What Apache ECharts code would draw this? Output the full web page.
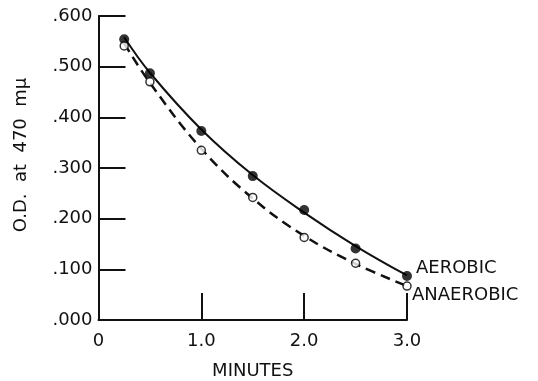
<!DOCTYPE html>
<html><head><meta charset="utf-8">
<script src="https://cdn.jsdelivr.net/npm/echarts@6/dist/echarts.min.js"></script>
<style>html,body{margin:0;padding:0;background:#fff}#c{width:538px;height:381px}</style>
</head><body><div id="c"></div>
<script>
// Measured points
const aerobicPts = [[0.25,0.554],[0.5,0.487],[1.0,0.373],[1.5,0.284],[2.0,0.217],[2.5,0.141],[3.0,0.087]];
const anaerobicPts = [[0.25,0.541],[0.5,0.470],[1.0,0.335],[1.5,0.242],[2.0,0.163],[2.5,0.112],[3.0,0.067]];
// Fitted curves
const aerobicFit = [[0.25,0.558],[0.5,0.488],[1.0,0.376],[1.5,0.286],[2.0,0.212],[2.5,0.146],[3.0,0.088]];
const anaerobicFit = [[0.25,0.546],[0.5,0.468],[1.0,0.338],[1.5,0.240],[2.0,0.166],[2.5,0.111],[3.0,0.067]];
const xTickLabels = {0:'0',1:'1.0',2:'2.0',3:'3.0'};
const yTickLabels = {0:'.000',1:'.100',2:'.200',3:'.300',4:'.400',5:'.500',6:'.600'};

const font = 'DejaVu Sans';
const chart = echarts.init(document.getElementById('c'), null, {renderer:'canvas'});
chart.setOption({
  animation:false,
  backgroundColor:'#fff',
  grid:{left:98.5, right:131, top:16, bottom:61, containLabel:false, outerBoundsMode:'none'},
  xAxis:{
    type:'value', min:0, max:3, interval:1,
    name:'MINUTES', nameLocation:'middle', nameGap:42,
    nameTextStyle:{fontFamily:font, fontSize:18, color:'#111'},
    axisLine:{lineStyle:{color:'#111', width:2}},
    axisTick:{inside:true, length:27, lineStyle:{color:'#111', width:2}},
    axisLabel:{fontFamily:font, fontSize:18, color:'#111', margin:12,
      formatter:v=>xTickLabels[Math.round(v)]},
    splitLine:{show:false}
  },
  yAxis:{
    type:'value', min:0, max:0.6, interval:0.1,
    name:'O.D.  at  470  mμ', nameLocation:'middle', nameGap:68, nameRotate:90,
    nameTextStyle:{fontFamily:font, fontSize:18, color:'#111', padding:[0,0,0,26]},
    axisLine:{lineStyle:{color:'#111', width:2}},
    axisTick:{inside:true, length:27, lineStyle:{color:'#111', width:2}},
    axisLabel:{fontFamily:font, fontSize:18, color:'#111', margin:6,
      formatter:v=>yTickLabels[Math.round(v*10)]},
    splitLine:{show:false}
  },
  series:[
    {type:'line', data:aerobicFit, smooth:0.4, symbol:'none',
      lineStyle:{color:'#111', width:2},
      endLabel:{show:true, formatter:'AEROBIC', fontFamily:font, fontSize:18, color:'#111', offset:[1,-7]}},
    {type:'line', data:anaerobicFit, smooth:0.4, symbol:'none',
      lineStyle:{color:'#111', width:2.5, type:[10,6]},
      endLabel:{show:true, formatter:'ANAEROBIC', fontFamily:font, fontSize:18, color:'#111', offset:[-3,9]}},
    {type:'scatter', data:aerobicPts, symbol:'circle', symbolSize:10,
      itemStyle:{color:'#000'}, z:5},
    {type:'scatter', data:anaerobicPts, symbol:'circle', symbolSize:8,
      itemStyle:{color:'#fff', borderColor:'#000', borderWidth:1.5}, z:5}
  ]
});
</script></body></html>
